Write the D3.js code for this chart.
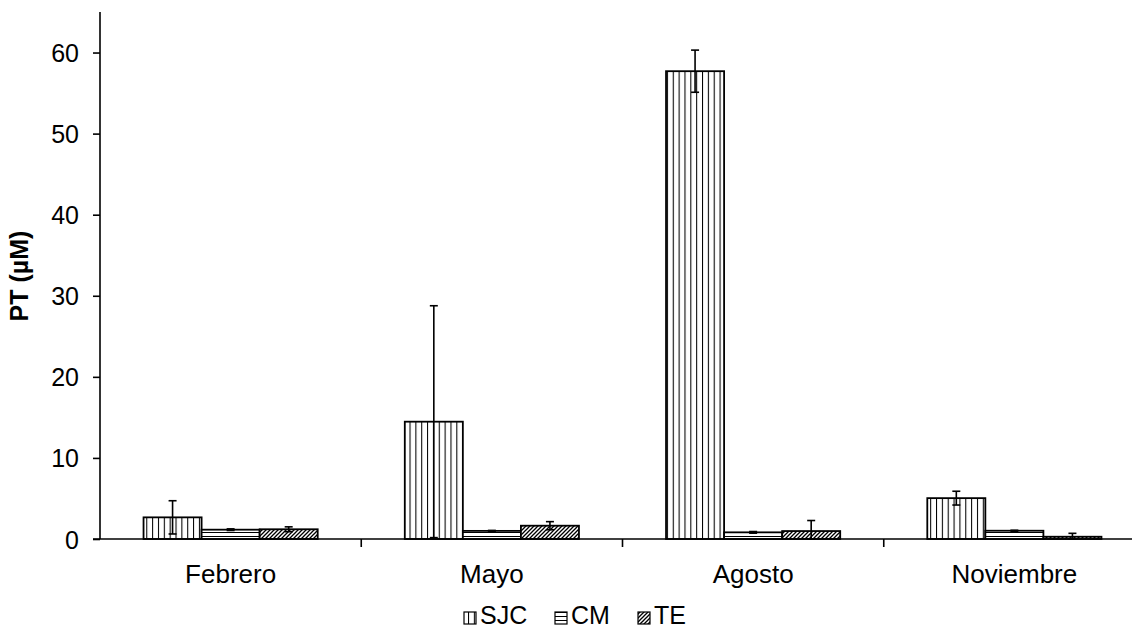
<!DOCTYPE html>
<html>
<head>
<meta charset="utf-8">
<script src="https://cdn.jsdelivr.net/npm/d3@7"></script>
<style>
  html, body { margin: 0; padding: 0; background: #fff; }
  svg { display: block; font-family: "Liberation Sans", Arial, sans-serif; }
</style>
</head>
<body>
<svg id="chart" width="1132" height="630"></svg>
<script>
const categories = ["Febrero", "Mayo", "Agosto", "Noviembre"];
const series = ["SJC", "CM", "TE"];
const sjcValues = [2.67, 14.47, 57.7, 5.04];
const sjcErrors = [2.05, 14.3, 2.6, 0.85];
const cmValues = [1.15, 1.0, 0.82, 1.02];
const cmErrors = [0.1, 0.06, 0.1, 0.06];
const teValues = [1.2, 1.64, 0.98, 0.28];
const teErrors = [0.3, 0.5, 1.3, 0.42];
const yTicks = [0, 10, 20, 30, 40, 50, 60];
const yLabel = "PT (µM)";

const valuesBySeries = { SJC: sjcValues, CM: cmValues, TE: teValues };
const errorsBySeries = { SJC: sjcErrors, CM: cmErrors, TE: teErrors };
const data = [];
categories.forEach((c, i) => {
  series.forEach(s => {
    data.push({ cat: c, series: s, value: valuesBySeries[s][i], err: errorsBySeries[s][i] });
  });
});

const svg = d3.select("#chart");
const plotLeft = 100, plotRight = 1145, plotTop = 12, plotBottom = 539;

const x = d3.scaleBand().domain(categories).range([plotLeft, plotRight]).paddingInner(0).paddingOuter(0);
const x1 = d3.scaleBand().domain(series).range([0, x.bandwidth()]).paddingInner(0).paddingOuter(0.75);
const y = d3.scaleLinear().domain([0, 65]).range([plotBottom, plotTop]);

// patterns
const defs = svg.append("defs");
const pV = defs.append("pattern").attr("id", "pat-SJC").attr("patternUnits", "userSpaceOnUse")
  .attr("width", 5.85).attr("height", 10);
pV.append("rect").attr("width", 5.85).attr("height", 10).attr("fill", "#fff");
pV.append("line").attr("x1", 0.5).attr("x2", 0.5).attr("y1", 0).attr("y2", 10).attr("stroke", "#000").attr("stroke-width", 1.1);

const pH = defs.append("pattern").attr("id", "pat-CM").attr("patternUnits", "userSpaceOnUse")
  .attr("width", 10).attr("height", 4);
pH.append("rect").attr("width", 10).attr("height", 4).attr("fill", "#fff");
pH.append("line").attr("x1", 0).attr("x2", 10).attr("y1", 0.5).attr("y2", 0.5).attr("stroke", "#000").attr("stroke-width", 1);

const pD = defs.append("pattern").attr("id", "pat-TE").attr("patternUnits", "userSpaceOnUse")
  .attr("width", 4).attr("height", 4);
pD.append("rect").attr("width", 4).attr("height", 4).attr("fill", "#fff");
pD.append("path").attr("d", "M-1,1 L1,-1 M0,4 L4,0 M3,5 L5,3").attr("stroke", "#000").attr("stroke-width", 1.3);

// bars
const bars = svg.append("g");
bars.selectAll("rect").data(data).join("rect")
  .attr("x", d => x(d.cat) + x1(d.series))
  .attr("y", d => y(d.value))
  .attr("width", x1.bandwidth())
  .attr("height", d => y(0) - y(d.value))
  .attr("fill", d => `url(#pat-${d.series})`)
  .attr("stroke", "#000").attr("stroke-width", 1.8);

// error bars
const eb = svg.append("g").attr("stroke", "#000").attr("stroke-width", 1.6);
const capW = 4;
data.forEach(d => {
  const cx = x(d.cat) + x1(d.series) + x1.bandwidth() / 2;
  const lo = Math.max(0, d.value - d.err), hi = d.value + d.err;
  eb.append("line").attr("x1", cx).attr("x2", cx).attr("y1", y(lo)).attr("y2", y(hi));
  eb.append("line").attr("x1", cx - capW).attr("x2", cx + capW).attr("y1", y(hi)).attr("y2", y(hi));
  eb.append("line").attr("x1", cx - capW).attr("x2", cx + capW).attr("y1", y(lo)).attr("y2", y(lo));
});

// y axis
const yAxis = svg.append("g").attr("transform", `translate(${plotLeft},0)`)
  .call(d3.axisLeft(y).tickValues(yTicks).tickSize(7).tickPadding(14).tickFormat(d3.format("d")));
yAxis.select(".domain").attr("d", `M0,${plotTop}V${plotBottom}`).attr("stroke", "#000").attr("stroke-width", 1.6);
yAxis.selectAll(".tick line").attr("stroke", "#000").attr("stroke-width", 1.6);
yAxis.selectAll(".tick text").attr("font-size", 25).attr("fill", "#000")
  .attr("font-family", "Liberation Sans, Arial, sans-serif").attr("dy", "0.36em");

// x axis
const xAxis = svg.append("g").attr("transform", `translate(0,${plotBottom})`)
  .call(d3.axisBottom(x).tickSize(0).tickPadding(26));
xAxis.select(".domain").attr("d", `M${plotLeft - 7},0H${plotRight}`).attr("stroke", "#000").attr("stroke-width", 1.6);
xAxis.selectAll(".tick text").attr("font-size", 26).attr("fill", "#000")
  .attr("font-family", "Liberation Sans, Arial, sans-serif");
// boundary ticks
xAxis.append("g").selectAll("line").data(categories.slice(1)).join("line")
  .attr("x1", d => x(d)).attr("x2", d => x(d)).attr("y1", 0).attr("y2", 8)
  .attr("stroke", "#000").attr("stroke-width", 1.6);

// y label
svg.append("text")
  .attr("transform", `translate(28,276) rotate(-90)`)
  .attr("text-anchor", "middle")
  .attr("font-size", 25).attr("font-weight", "bold")
  .text(yLabel);

// legend
const legendItems = [
  { s: "SJC", x: 464 },
  { s: "CM", x: 555 },
  { s: "TE", x: 638 }
];
const lg = svg.append("g");
legendItems.forEach(it => {
  lg.append("rect").attr("x", it.x).attr("y", 612).attr("width", 12).attr("height", 12)
    .attr("fill", `url(#pat-${it.s})`).attr("stroke", "#000").attr("stroke-width", 1.2);
  lg.append("text").attr("x", it.x + 16).attr("y", 624).attr("font-size", 25).text(it.s);
});
</script>
</body>
</html>
